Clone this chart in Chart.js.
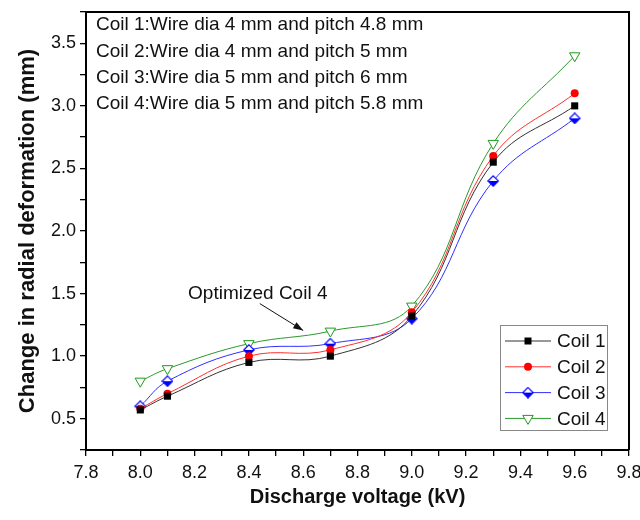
<!DOCTYPE html>
<html>
<head>
<meta charset="utf-8">
<script src="https://cdn.jsdelivr.net/npm/chart.js@4"></script>
<style>
  html, body { margin: 0; padding: 0; background: #ffffff; }
  #wrap { width: 640px; height: 520px; position: relative; }
</style>
</head>
<body>
<div id="wrap"><canvas id="c" width="640" height="520"></canvas></div>
<script>
// ---- data ----
const voltage = [8.0, 8.1, 8.4, 8.7, 9.0, 9.3, 9.6];
const coil1 = [0.57, 0.68, 0.95, 1.00, 1.32, 2.55, 3.00];
const coil2 = [0.58, 0.70, 1.00, 1.05, 1.35, 2.60, 3.10];
const coil3 = [0.60, 0.80, 1.05, 1.10, 1.30, 2.40, 2.90];
const coil4 = [0.80, 0.90, 1.10, 1.20, 1.40, 2.70, 3.40];
const seriesNames = ['Coil 1', 'Coil 2', 'Coil 3', 'Coil 4'];
const infoLines = [
  'Coil 1:Wire dia 4 mm and pitch 4.8 mm',
  'Coil 2:Wire dia 4 mm and pitch 5 mm',
  'Coil 3:Wire dia 5 mm and pitch 6 mm',
  'Coil 4:Wire dia 5 mm and pitch 5.8 mm'
];
const annotationText = 'Optimized Coil 4';
const xTitle = 'Discharge voltage (kV)';
const yTitle = 'Change in radial deformation (mm)';

const FONT = "'Liberation Sans', Arial, sans-serif";

// half-filled diamond marker for Coil 3
function makeDiamond() {
  const cv = document.createElement('canvas');
  cv.width = 12; cv.height = 12;
  const g = cv.getContext('2d');
  g.beginPath();
  g.moveTo(6, 0.8); g.lineTo(11.2, 6); g.lineTo(6, 11.2); g.lineTo(0.8, 6); g.closePath();
  g.fillStyle = '#ffffff'; g.fill();
  g.beginPath();
  g.moveTo(0.8, 6); g.lineTo(11.2, 6); g.lineTo(6, 11.2); g.closePath();
  g.fillStyle = '#0000ff'; g.fill();
  g.beginPath();
  g.moveTo(6, 0.8); g.lineTo(11.2, 6); g.lineTo(6, 11.2); g.lineTo(0.8, 6); g.closePath();
  g.strokeStyle = '#0000ff'; g.lineWidth = 1.2; g.stroke();
  return cv;
}
const diamond = makeDiamond();

function pts(ys) { return voltage.map((v, i) => ({ x: v, y: ys[i] })); }

const datasets = [
  { label: seriesNames[0], data: pts(coil1), borderColor: '#333333', backgroundColor: '#000000',
    pointStyle: 'rect', pointRadius: 5, pointBorderColor: '#000000', pointBackgroundColor: '#000000', pointBorderWidth: 0 },
  { label: seriesNames[1], data: pts(coil2), borderColor: '#ff3030', backgroundColor: '#ff0000',
    pointStyle: 'circle', pointRadius: 4, pointBorderColor: '#ff0000', pointBackgroundColor: '#ff0000', pointBorderWidth: 0 },
  { label: seriesNames[2], data: pts(coil3), borderColor: '#3030ff', backgroundColor: '#0000ff',
    pointStyle: diamond, pointRadius: 6 },
  { label: seriesNames[3], data: pts(coil4), borderColor: '#2a9a2a', backgroundColor: '#ffffff',
    pointStyle: 'triangle', pointRotation: 180, pointRadius: 6, pointBorderColor: '#1f9a1f', pointBackgroundColor: '#ffffff', pointBorderWidth: 1 }
];
datasets.forEach(d => { d.borderWidth = 1; d.tension = 0.4; d.fill = false; d.showLine = true; });

function drawMarker(ctx, i, x, y) {
  ctx.save();
  if (i === 0) {
    ctx.fillStyle = '#000'; ctx.fillRect(x - 3.5, y - 3.5, 7, 7);
  } else if (i === 1) {
    ctx.fillStyle = '#f00'; ctx.beginPath(); ctx.arc(x, y, 4, 0, Math.PI * 2); ctx.fill();
  } else if (i === 2) {
    ctx.drawImage(diamond, x - 6, y - 6);
  } else {
    ctx.strokeStyle = '#1f9a1f'; ctx.fillStyle = '#fff'; ctx.lineWidth = 1;
    ctx.beginPath(); ctx.moveTo(x - 5.2, y - 3); ctx.lineTo(x + 5.2, y - 3); ctx.lineTo(x, y + 6); ctx.closePath();
    ctx.fill(); ctx.stroke();
  }
  ctx.restore();
}

const decor = {
  id: 'decor',
  beforeDraw(chart) {
    const ctx = chart.ctx;
    ctx.save();
    ctx.fillStyle = '#ffffff';
    ctx.fillRect(0, 0, chart.width, chart.height);
    ctx.restore();
  },
  afterDraw(chart) {
    const ctx = chart.ctx, a = chart.chartArea;
    const xs = chart.scales.x, ys = chart.scales.y;
    ctx.save();
    // top and right frame
    ctx.strokeStyle = '#000'; ctx.lineWidth = 2;
    ctx.beginPath();
    ctx.moveTo(a.left, a.top); ctx.lineTo(a.right, a.top); ctx.lineTo(a.right, a.bottom);
    ctx.stroke();

    // info text
    ctx.fillStyle = '#111'; ctx.font = '19px ' + FONT; ctx.textBaseline = 'middle'; ctx.textAlign = 'left';
    infoLines.forEach((t, i) => ctx.fillText(t, a.left + 10, 25 + i * 26.3));

    // annotation + arrow
    ctx.fillText(annotationText, xs.getPixelForValue(8.176), ys.getPixelForValue(1.50));
    const x0 = xs.getPixelForValue(8.44), y0 = ys.getPixelForValue(1.42);
    const x1 = xs.getPixelForValue(8.60), y1 = ys.getPixelForValue(1.205);
    ctx.strokeStyle = '#111'; ctx.lineWidth = 1;
    ctx.beginPath(); ctx.moveTo(x0, y0); ctx.lineTo(x1, y1); ctx.stroke();
    const ang = Math.atan2(y1 - y0, x1 - x0), L = 10, W = 3.5;
    ctx.fillStyle = '#111';
    ctx.beginPath();
    ctx.moveTo(x1, y1);
    ctx.lineTo(x1 - L * Math.cos(ang) + W * Math.sin(ang), y1 - L * Math.sin(ang) - W * Math.cos(ang));
    ctx.lineTo(x1 - L * Math.cos(ang) - W * Math.sin(ang), y1 - L * Math.sin(ang) + W * Math.cos(ang));
    ctx.closePath(); ctx.fill();

    // legend box
    const lx = 500, ly = 325, lw = 107, lh = 105;
    ctx.fillStyle = '#fff'; ctx.fillRect(lx, ly, lw, lh);
    ctx.strokeStyle = '#888'; ctx.lineWidth = 1; ctx.strokeRect(lx + 0.5, ly + 0.5, lw, lh);
    ctx.font = '19px ' + FONT; ctx.textBaseline = 'middle'; ctx.textAlign = 'left';
    datasets.forEach((d, i) => {
      const yy = 341 + i * 25.8;
      ctx.strokeStyle = d.borderColor; ctx.lineWidth = 1;
      ctx.beginPath(); ctx.moveTo(505, yy); ctx.lineTo(551, yy); ctx.stroke();
      drawMarker(ctx, i, 528, yy);
      ctx.fillStyle = '#111'; ctx.fillText(d.label, 557, yy + 1);
    });

    // axis titles
    ctx.fillStyle = '#111'; ctx.font = 'bold 20px ' + FONT; ctx.textAlign = 'center'; ctx.textBaseline = 'middle';
    ctx.fillText(xTitle, (a.left + a.right) / 2, 497);
    ctx.save();
    ctx.translate(28, (a.top + a.bottom) / 2);
    ctx.rotate(-Math.PI / 2);
    ctx.font = 'bold 22px ' + FONT;
    ctx.fillText(yTitle, 0, 0);
    ctx.restore();
    ctx.restore();
  }
};

new Chart(document.getElementById('c'), {
  type: 'line',
  data: { datasets },
  options: {
    responsive: false,
    animation: false,
    layout: { padding: { left: 0, right: 11, top: 12, bottom: 0 } },
    plugins: { legend: { display: false }, tooltip: { enabled: false } },
    scales: {
      x: {
        type: 'linear', min: 7.8, max: 9.8,
        afterFit: s => { s.height = 70; s.paddingLeft = 0; s.paddingRight = 0; },
        border: { display: true, color: '#000', width: 2 },
        grid: { drawOnChartArea: false, drawTicks: true, tickLength: 6, color: '#000', lineWidth: 1.3 },
        ticks: {
          stepSize: 0.1, autoSkip: false, maxRotation: 0, padding: 6,
          color: '#111', font: { family: FONT, size: 18 },
          callback: v => (Math.round(v * 10) % 2 === 0 ? (Math.round(v * 10) / 10).toFixed(1) : '')
        }
      },
      y: {
        type: 'linear', min: 0.25, max: 3.75,
        afterFit: s => { s.width = 86; s.paddingTop = 0; s.paddingBottom = 0; },
        border: { display: true, color: '#000', width: 2 },
        grid: { drawOnChartArea: false, drawTicks: true, tickLength: 6, color: '#000', lineWidth: 1.3 },
        ticks: {
          stepSize: 0.25, autoSkip: false, padding: 4,
          color: '#111', font: { family: FONT, size: 18 },
          callback: v => (Math.round(v * 4) % 2 === 0 ? (Math.round(v * 4) / 4).toFixed(1) : '')
        }
      }
    }
  },
  plugins: [decor]
});
</script>
</body>
</html>
